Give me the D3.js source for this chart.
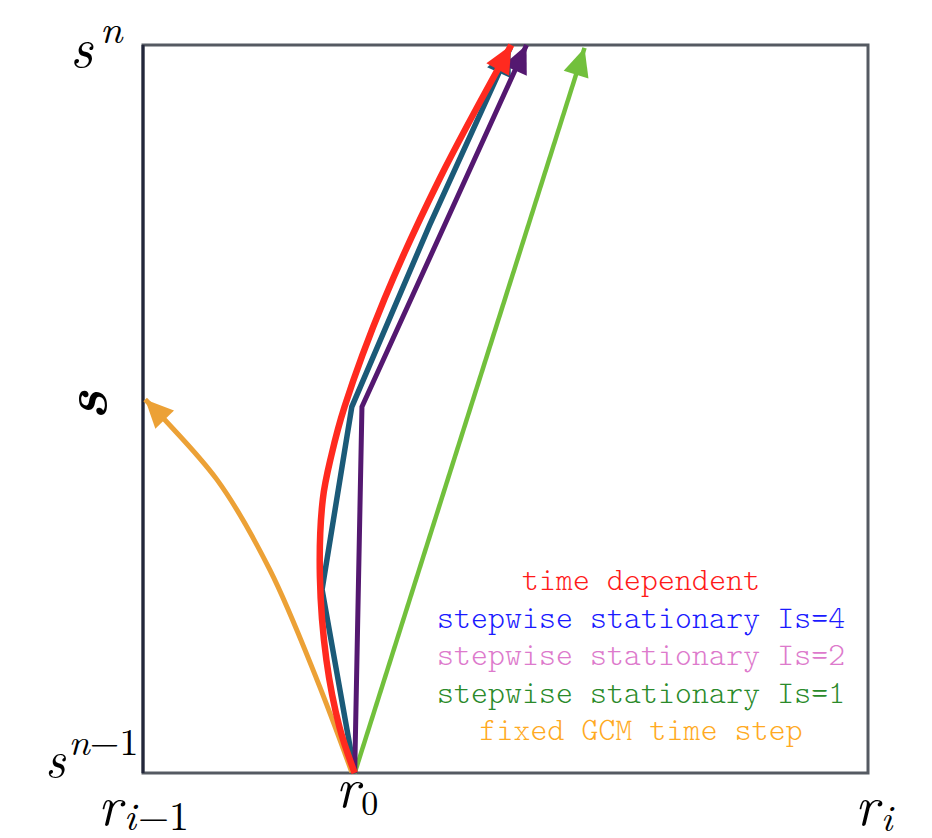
<!DOCTYPE html>
<html>
<head>
<meta charset="utf-8">
<script src="https://cdn.jsdelivr.net/npm/d3@7"></script>
<style>
  html, body { margin: 0; padding: 0; background: #fff; }
  svg { display: block; }
</style>
</head>
<body>
<svg id="chart" width="932" height="838"></svg>
<script>
// ---- data (domain units: x from r_{i-1}=0 to r_i=1, y from s^{n-1}=0 to s^n=1) ----
const r0 = 0.292;
const timeDependent = [
  [0.292, 0.000], [0.271, 0.063], [0.253, 0.155], [0.244, 0.270], [0.248, 0.376],
  [0.260, 0.437], [0.278, 0.503], [0.333, 0.651], [0.409, 0.816], [0.508, 1.000]
];
const stepwiseIs4 = [[0.292, 0.000], [0.247, 0.252], [0.288, 0.503], [0.395, 0.752], [0.507, 0.997]];
const stepwiseIs2 = [[0.292, 0.000], [0.302, 0.503], [0.529, 1.000]];
const stepwiseIs1 = [[0.292, 0.000], [0.609, 0.996]];
const fixedGCM = [[0.288, 0.001], [0.240, 0.128], [0.175, 0.279], [0.102, 0.403], [0.003, 0.513]];
const legendLabels = [
  "time dependent",
  "stepwise stationary Is=4",
  "stepwise stationary Is=2",
  "stepwise stationary Is=1",
  "fixed GCM time step"
];

const svg = d3.select("#chart");
const x = d3.scaleLinear().domain([0, 1]).range([143, 868]);
const y = d3.scaleLinear().domain([0, 1]).range([773, 45]);

// frame
svg.append("rect")
  .attr("x", x(0)).attr("y", y(1))
  .attr("width", x(1) - x(0)).attr("height", y(0) - y(1))
  .attr("fill", "none").attr("stroke", "#555a62").attr("stroke-width", 3);
svg.append("line")
  .attr("x1", x(0)).attr("x2", x(0)).attr("y1", y(1)).attr("y2", y(0))
  .attr("stroke", "#23263a").attr("stroke-width", 3);

// series
const series = [
  { data: fixedGCM, color: "#eca136", width: 5, curve: d3.curveCatmullRom.alpha(0.5) },
  { data: stepwiseIs1, color: "#72c03c", width: 4.5, curve: d3.curveLinear },
  { data: stepwiseIs4, color: "#1b5a78", width: 5.5, curve: d3.curveLinear },
  { data: stepwiseIs2, color: "#541870", width: 5, curve: d3.curveLinear },
  { data: timeDependent, color: "#ff2a1f", width: 6.5, curve: d3.curveCatmullRom.alpha(0.5) }
];

const g = svg.append("g");
series.forEach(s => {
  const line = d3.line().x(d => x(d[0])).y(d => y(d[1])).curve(s.curve);
  const p = g.append("path")
    .attr("d", line(s.data))
    .attr("fill", "none")
    .attr("stroke", s.color)
    .attr("stroke-width", s.width)
    .attr("stroke-linejoin", "miter");
  const node = p.node();
  const L = node.getTotalLength();
  const tip = node.getPointAtLength(L);
  const back = node.getPointAtLength(L - 18);
  const dx = tip.x - back.x, dy = tip.y - back.y;
  const len = Math.hypot(dx, dy);
  const ux = dx / len, uy = dy / len;
  const al = 28, aw = 13;
  const bx = tip.x - ux * al, by = tip.y - uy * al;
  g.append("polygon")
    .attr("points", [
      [tip.x, tip.y],
      [bx - uy * aw, by + ux * aw],
      [bx + uy * aw, by - ux * aw]
    ].map(q => q.join(",")).join(" "))
    .attr("fill", s.color);
});

// legend
const legendColors = ["#ff1a1a", "#1a1aff", "#dd7acc", "#2a8a2a", "#ffaa22"];
const legendFont = '"Latin Modern Mono Light", "Latin Modern Mono", "Liberation Serif", serif';
const legend = svg.append("g").selectAll("text")
  .data(legendLabels)
  .join("text")
  .attr("x", 641)
  .attr("y", (d, i) => 590 + i * 37.5)
  .attr("text-anchor", "middle")
  .style("font-family", legendFont)
  .style("font-size", "32px")
  .attr("fill", (d, i) => legendColors[i])
  .text(d => d);
// fit spacing so the longest entry spans the reference width
{
  const n = legend.nodes()[1];
  const w = n.getComputedTextLength();
  const ls = Math.max(0, (408 - w) / (legendLabels[1].length - 1));
  legend.style("letter-spacing", ls + "px").attr("dx", ls / 2);
}

// math labels
const mathFont = '"Latin Modern Roman", "Liberation Serif", serif';
function mathText(px, py, size) {
  return svg.append("text")
    .attr("x", px).attr("y", py)
    .style("font-family", mathFont)
    .style("font-size", size + "px")
    .attr("fill", "#000");
}

// s^n
{
  const t = mathText(x(0) - 73, y(1) + 22, 56);
  t.append("tspan").style("font-style", "italic").text("s");
  t.append("tspan").style("font-style", "italic").style("font-size", "40px").attr("dx", 7).attr("dy", -24).text("n");
}
// s^{n-1}
{
  const t = mathText(x(0) - 98, y(0) + 4, 50);
  t.append("tspan").style("font-style", "italic").text("s");
  t.append("tspan").style("font-style", "italic").style("font-size", "38px").attr("dx", 3).attr("dy", -22).text("n");
  t.append("tspan").style("font-size", "38px").text("−1");
}
// rotated s
svg.append("text")
  .attr("transform", `translate(${x(0) - 37},${y(0.505)}) rotate(-90)`)
  .attr("text-anchor", "middle")
  .style("font-family", mathFont)
  .style("font-style", "italic")
  .style("font-weight", "bold")
  .style("font-size", "60px")
  .text("s");

// r_{i-1}
{
  const t = mathText(x(0) - 45, y(0) + 52, 56);
  t.append("tspan").style("font-style", "italic").text("r");
  t.append("tspan").style("font-style", "italic").style("font-size", "40px").attr("dx", 2).attr("dy", 5).text("i");
  t.append("tspan").style("font-size", "40px").attr("dx", 2).text("−1");
}
// r_0
{
  const t = mathText(x(r0) - 19, y(0) + 34, 56);
  t.append("tspan").style("font-style", "italic").text("r");
  t.append("tspan").style("font-size", "34px").attr("dx", 2).attr("dy", 8).text("0");
}
// r_i
{
  const t = mathText(x(1) - 13, y(0) + 52, 56);
  t.append("tspan").style("font-style", "italic").text("r");
  t.append("tspan").style("font-style", "italic").style("font-size", "38px").attr("dx", 2).attr("dy", 6).text("i");
}
</script>
</body>
</html>
